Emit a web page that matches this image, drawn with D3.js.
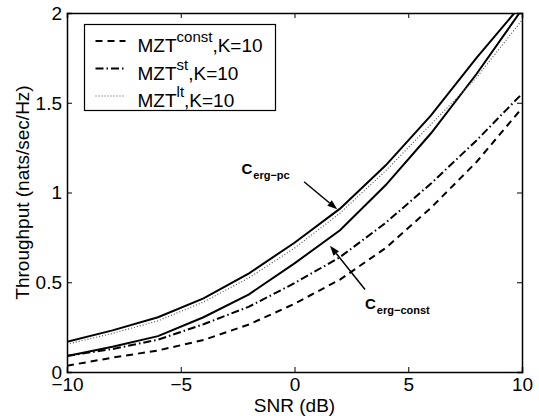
<!DOCTYPE html>
<html>
<head>
<meta charset="utf-8">
<script src="https://cdn.jsdelivr.net/npm/d3@7"></script>
<style>
  body { margin: 0; background: #fff; }
  svg { display: block; font-family: "Liberation Sans", Arial, Helvetica, sans-serif; }
</style>
</head>
<body>
<div id="chart"></div>
<script>
// data, one point every 2 dB
var snr = [-10, -8, -6, -4, -2, 0, 2, 4, 6, 8, 10];
var ergPc    = [0.169, 0.232, 0.305, 0.41, 0.55, 0.72, 0.91, 1.15, 1.43, 1.75, 2.05];
var ergConst = [0.089, 0.141, 0.20, 0.305, 0.433, 0.605, 0.79, 1.04, 1.33, 1.66, 2.02];
var mztLt    = [0.155, 0.215, 0.285, 0.39, 0.525, 0.69, 0.885, 1.12, 1.38, 1.64, 1.96];
var mztSt    = [0.09, 0.128, 0.18, 0.266, 0.364, 0.495, 0.64, 0.83, 1.05, 1.29, 1.55];
var mztConst = [0.035, 0.08, 0.12, 0.178, 0.265, 0.38, 0.515, 0.69, 0.915, 1.17, 1.47];

var xTicks = [-10, -5, 0, 5, 10];
var yTicks = [0, 0.5, 1, 1.5, 2];

var W = 539, H = 416;
var margin = {left: 67, top: 13, right: 17, bottom: 44};
var pw = W - margin.left - margin.right;
var ph = H - margin.top - margin.bottom;

var x = d3.scaleLinear().domain([-10, 10]).range([0, pw]);
var y = d3.scaleLinear().domain([0, 2]).range([ph, 0]);

var svg = d3.select("#chart").append("svg")
  .attr("width", W).attr("height", H);

svg.append("defs").append("clipPath").attr("id", "clip")
  .append("rect").attr("width", pw).attr("height", ph);

var g = svg.append("g")
  .attr("transform", "translate(" + margin.left + "," + margin.top + ")");

// curves
var series = [
  {vals: ergPc,    w: 2,   dash: null,           col: "#000"},
  {vals: ergConst, w: 2,   dash: null,           col: "#000"},
  {vals: mztLt,    w: 1.2, dash: "1,2",          col: "#555"},
  {vals: mztSt,    w: 2,   dash: "8,3,1.5,3",    col: "#000"},
  {vals: mztConst, w: 2,   dash: "7,5",          col: "#000"}
];

var line = d3.line()
  .x((d, i) => x(snr[i]))
  .y(d => y(d));

var curves = g.append("g").attr("clip-path", "url(#clip)");
series.forEach(s => {
  curves.append("path")
    .attr("d", line(s.vals))
    .attr("fill", "none")
    .attr("stroke", s.col)
    .attr("stroke-width", s.w)
    .attr("stroke-dasharray", s.dash);
});

// axes, box with mirrored inward ticks
var fs = 19;
var xAxis = d3.axisBottom(x).tickValues(xTicks).tickSize(-5).tickPadding(6);
var yAxis = d3.axisLeft(y).tickValues(yTicks).tickSize(-5).tickPadding(5)
  .tickFormat(d3.format("~g"));

var gx = g.append("g").attr("transform", "translate(0," + ph + ")").call(xAxis);
var gy = g.append("g").call(yAxis);
g.append("g").call(d3.axisTop(x).tickValues(xTicks).tickSize(-5).tickFormat(""));
g.append("g").attr("transform", "translate(" + pw + ",0)")
  .call(d3.axisRight(y).tickValues(yTicks).tickSize(-5).tickFormat(""));

g.selectAll(".domain").attr("stroke", "#000").attr("stroke-width", 1.5);
g.selectAll(".tick line").attr("stroke", "#000").attr("stroke-width", 1);
g.selectAll(".tick text").attr("fill", "#000")
  .style("font-size", fs + "px").style("font-family", "'Liberation Sans', Arial, sans-serif");
gx.selectAll(".tick text").attr("dy", "0.71em");
gy.selectAll(".tick text").attr("dy", "0.33em");

// axis labels
svg.append("text")
  .attr("x", margin.left + pw / 2).attr("y", 412)
  .attr("text-anchor", "middle")
  .style("font-size", fs + "px")
  .text("SNR (dB)");

svg.append("text")
  .attr("transform", "translate(29," + (margin.top + ph / 2) + ") rotate(-90)")
  .attr("text-anchor", "middle")
  .style("font-size", fs + "px")
  .text("Throughput (nats/sec/Hz)");

// annotations
var notes = [
  {sub: "erg\u2212pc",    tx: -2.33, ty: 1.103, from: [0.42, 1.06], to: [1.88, 0.906]},
  {sub: "erg\u2212const", tx: 3.10,  ty: 0.351, from: [3.10, 0.46], to: [1.56, 0.704]}
];
notes.forEach(n => {
  var t = g.append("text")
    .attr("x", x(n.tx)).attr("y", y(n.ty))
    .style("font-size", "15px").style("font-weight", "bold");
  t.append("tspan").text("C");
  t.append("tspan").attr("dy", 5).attr("dx", 1).style("font-size", "11px").text(n.sub);

  var x0 = x(n.from[0]), y0 = y(n.from[1]);
  var x1 = x(n.to[0]), y1 = y(n.to[1]);
  var ang = Math.atan2(y1 - y0, x1 - x0);
  var hl = 10, hw = 3.5;
  var bx = x1 - hl * Math.cos(ang), by = y1 - hl * Math.sin(ang);
  g.append("line")
    .attr("x1", x0).attr("y1", y0).attr("x2", bx).attr("y2", by)
    .attr("stroke", "#000").attr("stroke-width", 1.5);
  var px = -Math.sin(ang), py = Math.cos(ang);
  g.append("path")
    .attr("d", "M" + x1 + "," + y1 +
      "L" + (bx + hw * px) + "," + (by + hw * py) +
      "L" + (bx - hw * px) + "," + (by - hw * py) + "Z")
    .attr("fill", "#000");
});

// legend
var legend = [
  {name: "MZT", sup: "const", s: series[4]},
  {name: "MZT", sup: "st",    s: series[3]},
  {name: "MZT", sup: "lt",    s: series[2]}
];
var lg = svg.append("g").attr("transform", "translate(84.5,24.5)");
lg.append("rect").attr("width", 191).attr("height", 86)
  .attr("fill", "#fff").attr("stroke", "#000").attr("stroke-width", 1.2);
legend.forEach((d, i) => {
  var ly = 16.5 + i * 27.5;
  lg.append("line")
    .attr("x1", 11).attr("x2", 41).attr("y1", ly).attr("y2", ly)
    .attr("stroke", d.s.col).attr("stroke-width", d.s.w)
    .attr("stroke-dasharray", d.s.dash);
  var t = lg.append("text").attr("x", 53).attr("y", ly + 11)
    .style("font-size", "19px");
  t.append("tspan").text(d.name);
  t.append("tspan").attr("dy", -10).style("font-size", "15px").text(d.sup);
  t.append("tspan").attr("dy", 10).text(",K=10");
});
</script>
</body>
</html>
